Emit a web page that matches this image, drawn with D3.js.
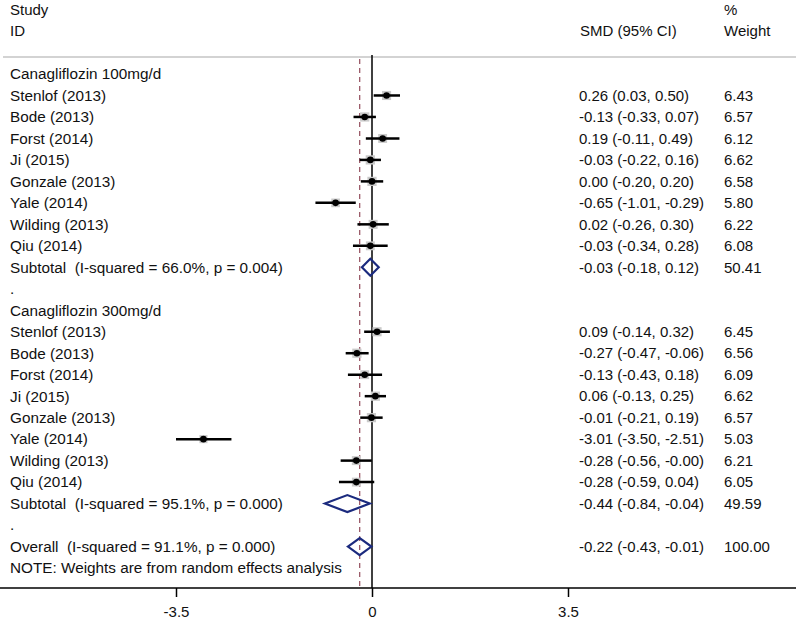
<!DOCTYPE html>
<html>
<head>
  <style>
    body{
      margin:0;
      background:#fff;
      font-family: "Liberation Sans", Arial, sans-serif;
    }
    text{
      fill:#111;
      white-space:pre;
    }
    .label{ font-size:15.3px; }
    .value{ font-size:15px; }
    .header{ font-size:15px; }
    .ci-line{ stroke:#000; stroke-width:2.5px; }
    .weight-box{ fill:#cacaca; }
    .point{ fill:#000; }
    .diamond{ fill:none; stroke:#1b2a7e; stroke-width:2.2px; }
    .null-line{ stroke:#000; stroke-width:1.5px; }
    .overall-line{ stroke:#9a5a68; stroke-width:1.3px; stroke-dasharray:5,4; }
    .header-rule{ stroke:#c4c4c4; stroke-width:1.5px; }
    .axis-rule{ stroke:#000; stroke-width:1.5px; }
    .x-axis text{ font-size:15px; font-family:"Liberation Sans", Arial, sans-serif; fill:#111; }
    .x-axis line{ stroke:#000; stroke-width:1.5px; }
  </style>
  <script src="https://d3js.org/d3.v7.min.js"></script>
</head>
<body>
<div class="chart"></div>
<script>
// rows, top to bottom
const rowLabels = [
  'Canagliflozin 100mg/d',
  'Stenlof (2013)', 'Bode (2013)', 'Forst (2014)', 'Ji (2015)',
  'Gonzale (2013)', 'Yale (2014)', 'Wilding (2013)', 'Qiu (2014)',
  'Subtotal  (I-squared = 66.0%, p = 0.004)',
  '.',
  'Canagliflozin 300mg/d',
  'Stenlof (2013)', 'Bode (2013)', 'Forst (2014)', 'Ji (2015)',
  'Gonzale (2013)', 'Yale (2014)', 'Wilding (2013)', 'Qiu (2014)',
  'Subtotal  (I-squared = 95.1%, p = 0.000)',
  '.',
  'Overall  (I-squared = 91.1%, p = 0.000)',
  'NOTE: Weights are from random effects analysis'
];
const rowTypes = [
  'group', 'study','study','study','study','study','study','study','study', 'pooled', 'blank',
  'group', 'study','study','study','study','study','study','study','study', 'pooled', 'blank',
  'pooled', 'note'
];
const smd = [
  null, 0.26, -0.13, 0.19, -0.03, 0.00, -0.65, 0.02, -0.03, -0.03, null,
  null, 0.09, -0.27, -0.13, 0.06, -0.01, -3.01, -0.28, -0.28, -0.44, null,
  -0.22, null
];
const ciLow = [
  null, 0.03, -0.33, -0.11, -0.22, -0.20, -1.01, -0.26, -0.34, -0.18, null,
  null, -0.14, -0.47, -0.43, -0.13, -0.21, -3.50, -0.56, -0.59, -0.84, null,
  -0.43, null
];
const ciHigh = [
  null, 0.50, 0.07, 0.49, 0.16, 0.20, -0.29, 0.30, 0.28, 0.12, null,
  null, 0.32, -0.06, 0.18, 0.25, 0.19, -2.51, -0.004, 0.04, -0.04, null,
  -0.01, null
];
const weights = [
  null, 6.43, 6.57, 6.12, 6.62, 6.58, 5.80, 6.22, 6.08, 50.41, null,
  null, 6.45, 6.56, 6.09, 6.62, 6.57, 5.03, 6.21, 6.05, 49.59, null,
  100.00, null
];
const xTicks = [-3.5, 0, 3.5];
const overallSmd = -0.22;

const width = 796;
const height = 623;

const svg = d3.select('.chart')
  .append('svg')
  .attr('width', width)
  .attr('height', height);

const x = d3.scaleLinear().domain([-3.5, 3.5]).range([176, 568]);
const y = d3.scalePoint().domain(d3.range(rowLabels.length)).range([74, 568]);
const axisY = 588;

const fmt = v => v.toFixed(2);

const rows = rowLabels.map((label, i) => ({
  i, label, type: rowTypes[i], smd: smd[i], lo: ciLow[i], hi: ciHigh[i], w: weights[i]
}));

// headers
svg.append('text').attr('class', 'header').attr('x', 10).attr('y', 10).attr('dy', '0.35em').text('Study');
svg.append('text').attr('class', 'header').attr('x', 10).attr('y', 31).attr('dy', '0.35em').text('ID');
svg.append('text').attr('class', 'header').attr('x', 580).attr('y', 31).attr('dy', '0.35em').text('SMD (95% CI)');
svg.append('text').attr('class', 'header').attr('x', 724).attr('y', 10).attr('dy', '0.35em').text('%');
svg.append('text').attr('class', 'header').attr('x', 724).attr('y', 31).attr('dy', '0.35em').text('Weight');

svg.append('line').attr('class', 'header-rule')
  .attr('x1', 3).attr('x2', width).attr('y1', 57).attr('y2', 57);

// reference lines
svg.append('line').attr('class', 'null-line')
  .attr('x1', x(0)).attr('x2', x(0)).attr('y1', 55).attr('y2', axisY);
svg.append('line').attr('class', 'overall-line')
  .attr('x1', x(overallSmd)).attr('x2', x(overallSmd)).attr('y1', 59).attr('y2', axisY);

// row labels
svg.append('g').selectAll('text')
  .data(rows)
  .join('text')
  .attr('class', 'label')
  .attr('x', 10)
  .attr('y', d => y(d.i))
  .attr('dy', '0.35em')
  .text(d => d.label);

// estimates text
const withValues = rows.filter(d => d.smd !== null);
svg.append('g').selectAll('text')
  .data(withValues)
  .join('text')
  .attr('class', 'value')
  .attr('x', 579)
  .attr('y', d => y(d.i))
  .attr('dy', '0.35em')
  .text(d => `${fmt(d.smd)} (${fmt(d.lo)}, ${fmt(d.hi)})`);

svg.append('g').selectAll('text')
  .data(withValues)
  .join('text')
  .attr('class', 'value')
  .attr('x', 724)
  .attr('y', d => y(d.i))
  .attr('dy', '0.35em')
  .text(d => fmt(d.w));

// studies
const studies = svg.append('g').selectAll('g')
  .data(rows.filter(d => d.type === 'study'))
  .join('g');

const half = w => Math.sqrt(w) * 1.8;

studies.append('rect')
  .attr('class', 'weight-box')
  .attr('x', d => x(d.smd) - half(d.w))
  .attr('y', d => y(d.i) - half(d.w))
  .attr('width', d => half(d.w) * 2)
  .attr('height', d => half(d.w) * 2);

studies.append('line')
  .attr('class', 'ci-line')
  .attr('x1', d => x(d.lo)).attr('x2', d => x(d.hi))
  .attr('y1', d => y(d.i)).attr('y2', d => y(d.i));

studies.append('circle')
  .attr('class', 'point')
  .attr('cx', d => x(d.smd))
  .attr('cy', d => y(d.i))
  .attr('r', 3.3);

// pooled diamonds
svg.append('g').selectAll('path')
  .data(rows.filter(d => d.type === 'pooled'))
  .join('path')
  .attr('class', 'diamond')
  .attr('d', d => {
    const cy = y(d.i);
    return `M${x(d.lo)},${cy}L${x(d.smd)},${cy - 8.5}L${x(d.hi)},${cy}L${x(d.smd)},${cy + 8.5}Z`;
  });

// x axis
svg.append('line').attr('class', 'axis-rule')
  .attr('x1', 0).attr('x2', width).attr('y1', axisY).attr('y2', axisY);

const axis = svg.append('g')
  .attr('class', 'x-axis')
  .attr('transform', `translate(0,${axisY})`)
  .call(d3.axisBottom(x).tickValues(xTicks).tickSize(9).tickPadding(9)
    .tickFormat(d => d === 0 ? '0' : (d < 0 ? '-' : '') + Math.abs(d)));
axis.select('.domain').remove();
</script>
</body>
</html>
